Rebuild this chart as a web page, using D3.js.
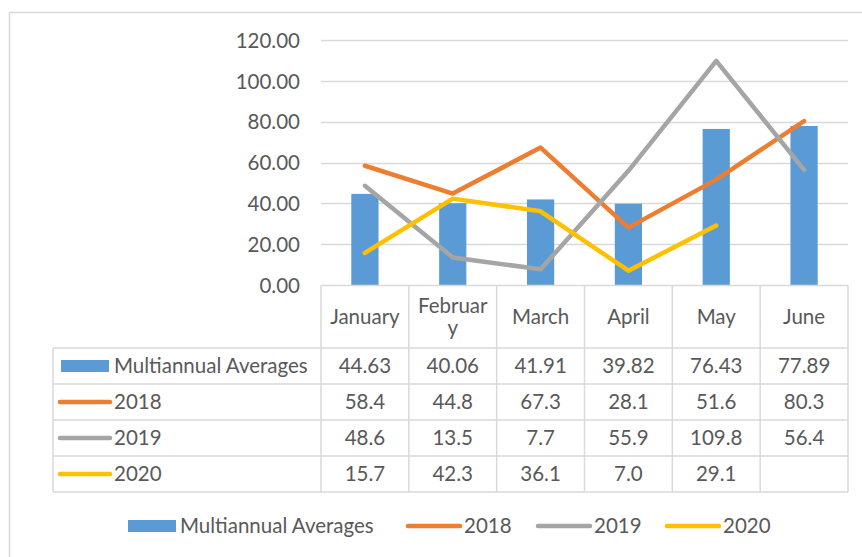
<!DOCTYPE html>
<html>
<head>
<meta charset="utf-8">
<script src="https://cdn.jsdelivr.net/npm/d3@7"></script>
<style>
  html, body { margin: 0; padding: 0; background: #ffffff; }
  svg { display: block; }
  text { font-family: Lato, "Open Sans", sans-serif; fill: #595959; }
</style>
</head>
<body>
<svg id="chart" width="862" height="557"></svg>
<script>
// ---- data ----
const categories = ["January", "February", "March", "April", "May", "June"];
const headerLines = [["January"], ["Februar", "y"], ["March"], ["April"], ["May"], ["June"]];
const multiannualAverages = [44.63, 40.06, 41.91, 39.82, 76.43, 77.89];
const series2018 = [58.4, 44.8, 67.3, 28.1, 51.6, 80.3];
const series2019 = [48.6, 13.5, 7.7, 55.9, 109.8, 56.4];
const series2020 = [15.7, 42.3, 36.1, 7.0, 29.1, null];
const yTicks = [0, 20, 40, 60, 80, 100, 120];

const barName = "Multiannual Averages";
const lineSeries = [
  { name: "2018", values: series2018, color: "#ED7D31" },
  { name: "2019", values: series2019, color: "#A5A5A5" },
  { name: "2020", values: series2020, color: "#FFC000" }
];
const barColor = "#5B9BD5";
const gridColor = "#D9D9D9";
const fontSize = 20.5;

const svg = d3.select("#chart");

// outer chart border
svg.append("rect")
  .attr("x", 9.5).attr("y", 12.5)
  .attr("width", 900).attr("height", 600)
  .attr("fill", "none").attr("stroke", "#D9D9D9").attr("stroke-width", 1.5);

// scales
const x = d3.scaleBand().domain(categories).range([321, 848]).padding(0);
const y = d3.scaleLinear().domain([0, 120]).range([285, 40]);
const barW = x.bandwidth() * 0.31;

// gridlines
svg.append("g").selectAll("line")
  .data(yTicks.filter(t => t > 0))
  .join("line")
  .attr("x1", 321).attr("x2", 848)
  .attr("y1", d => Math.round(y(d)) + 0.5).attr("y2", d => Math.round(y(d)) + 0.5)
  .attr("stroke", gridColor).attr("stroke-width", 1.5);

// y axis labels
const yAxis = d3.axisLeft(y).tickValues(yTicks).tickFormat(d => d.toFixed(2)).tickSize(0).tickPadding(0);
const yg = svg.append("g").attr("transform", "translate(300,0)").call(yAxis);
yg.select(".domain").remove();
yg.selectAll("text")
  .attr("font-size", fontSize)
  .attr("font-family", "Lato, 'Open Sans', sans-serif")
  .attr("fill", "#595959")
  .attr("dy", "0.35em");

// bars
svg.append("g").selectAll("rect")
  .data(categories.map((c, i) => ({ c, v: multiannualAverages[i] })))
  .join("rect")
  .attr("x", d => x(d.c) + x.bandwidth() / 2 - barW / 2)
  .attr("y", d => y(d.v))
  .attr("width", barW)
  .attr("height", d => y(0) - y(d.v))
  .attr("fill", barColor);

// lines
const line = d3.line()
  .defined(d => d.v !== null)
  .x(d => x(d.c) + x.bandwidth() / 2)
  .y(d => y(d.v));

lineSeries.forEach(s => {
  svg.append("path")
    .datum(categories.map((c, i) => ({ c, v: s.values[i] })))
    .attr("d", line)
    .attr("fill", "none")
    .attr("stroke", s.color)
    .attr("stroke-width", 4.5)
    .attr("stroke-linejoin", "round")
    .attr("stroke-linecap", "round");
});

// ---- data table ----
const tableLeft = 53;
const headerTop = 285.5;
const rowEdges = [348, 384, 420, 456, 492];
const tblColor = "#D9D9D9";
const tg = svg.append("g");

// horizontal lines
tg.append("line").attr("x1", 321).attr("x2", 848).attr("y1", headerTop).attr("y2", headerTop)
  .attr("stroke", tblColor).attr("stroke-width", 1.5);
rowEdges.forEach(ry => {
  tg.append("line").attr("x1", tableLeft).attr("x2", 848).attr("y1", ry).attr("y2", ry)
    .attr("stroke", tblColor).attr("stroke-width", 1.5);
});
// vertical lines
const colEdges = categories.map(c => x(c)).concat([848]);
colEdges.forEach(cx => {
  tg.append("line").attr("x1", cx).attr("x2", cx).attr("y1", headerTop).attr("y2", 492)
    .attr("stroke", tblColor).attr("stroke-width", 1.5);
});
tg.append("line").attr("x1", tableLeft).attr("x2", tableLeft).attr("y1", 348).attr("y2", 492)
  .attr("stroke", tblColor).attr("stroke-width", 1.5);

// header labels
categories.forEach((c, i) => {
  const lines = headerLines[i];
  const cx = x(c) + x.bandwidth() / 2;
  const lh = 22;
  const cy = 317;
  lines.forEach((t, j) => {
    tg.append("text")
      .attr("x", cx)
      .attr("y", cy + (j - (lines.length - 1) / 2) * lh)
      .attr("dy", "0.35em")
      .attr("text-anchor", "middle")
      .attr("font-size", fontSize)
      .text(t);
  });
});

// rows
const rows = [
  { name: barName, values: multiannualAverages, fmt: v => v.toFixed(2), type: "bar", color: barColor },
  ...lineSeries.map(s => ({ name: s.name, values: s.values, fmt: v => v.toFixed(1), type: "line", color: s.color }))
];
rows.forEach((r, ri) => {
  const cy = (rowEdges[ri] + rowEdges[ri + 1]) / 2;
  if (r.type === "bar") {
    tg.append("rect").attr("x", 61).attr("y", cy - 6).attr("width", 48).attr("height", 12).attr("fill", r.color);
  } else {
    tg.append("line").attr("x1", 60).attr("x2", 110).attr("y1", cy).attr("y2", cy)
      .attr("stroke", r.color).attr("stroke-width", 4.5).attr("stroke-linecap", "round");
  }
  tg.append("text").attr("x", 114).attr("y", cy).attr("dy", "0.35em")
    .attr("font-size", fontSize).text(r.name);
  categories.forEach((c, i) => {
    const v = r.values[i];
    if (v === null) return;
    tg.append("text")
      .attr("x", x(c) + x.bandwidth() / 2)
      .attr("y", cy).attr("dy", "0.35em")
      .attr("text-anchor", "middle")
      .attr("font-size", fontSize)
      .text(r.fmt(v));
  });
});

// ---- legend ----
const lg = svg.append("g");
const legendY = 526;
lg.append("rect").attr("x", 128).attr("y", legendY - 6).attr("width", 48).attr("height", 12).attr("fill", barColor);
lg.append("text").attr("x", 180).attr("y", legendY).attr("dy", "0.35em").attr("font-size", fontSize).text(barName);
const legendLineX = [408, 538, 667];
lineSeries.forEach((s, i) => {
  const lx = legendLineX[i];
  lg.append("line").attr("x1", lx).attr("x2", lx + 52).attr("y1", legendY).attr("y2", legendY)
    .attr("stroke", s.color).attr("stroke-width", 4.5).attr("stroke-linecap", "round");
  lg.append("text").attr("x", lx + 56).attr("y", legendY).attr("dy", "0.35em").attr("font-size", fontSize).text(s.name);
});
</script>
</body>
</html>
